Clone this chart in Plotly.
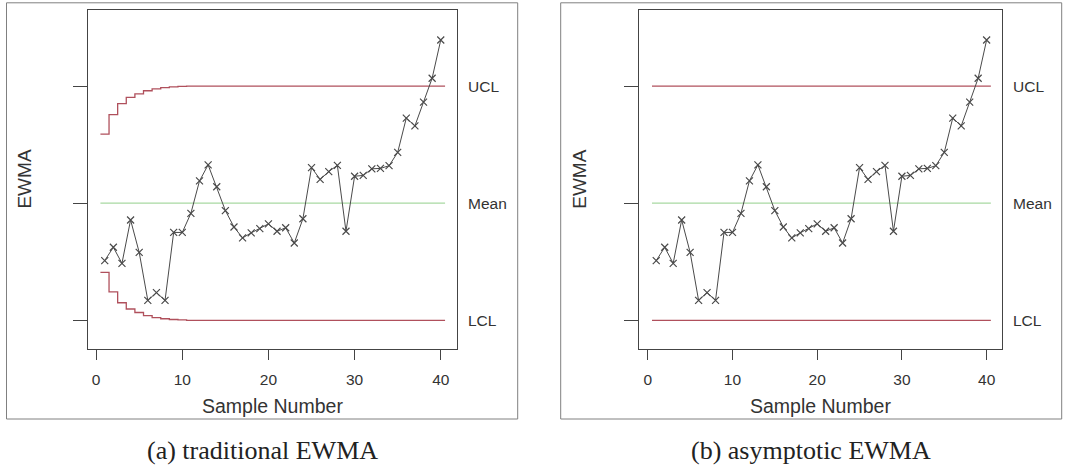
import plotly.graph_objects as go

# ---------------- data ----------------
sample = list(range(1, 41))
ewma = [-1.47, -1.13, -1.54, -0.43, -1.26, -2.49, -2.29, -2.49, -0.75, -0.75,
        -0.26, 0.57, 0.98, 0.42, -0.19, -0.61, -0.89, -0.76, -0.65, -0.53,
        -0.72, -0.63, -1.02, -0.40, 0.91, 0.61, 0.81, 0.97, -0.72, 0.69,
        0.71, 0.88, 0.89, 0.96, 1.30, 2.18, 1.98, 2.59, 3.20, 4.18]
ucl_traditional = [1.77, 2.27, 2.55, 2.71, 2.80, 2.88, 2.93, 2.96, 2.98, 2.99,
                   3.0, 3.0, 3.0, 3.0, 3.0, 3.0, 3.0, 3.0, 3.0, 3.0,
                   3.0, 3.0, 3.0, 3.0, 3.0, 3.0, 3.0, 3.0, 3.0, 3.0,
                   3.0, 3.0, 3.0, 3.0, 3.0, 3.0, 3.0, 3.0, 3.0, 3.0]
lcl_traditional = [-1.77, -2.27, -2.55, -2.71, -2.80, -2.88, -2.93, -2.96, -2.98, -2.99,
                   -3.0, -3.0, -3.0, -3.0, -3.0, -3.0, -3.0, -3.0, -3.0, -3.0,
                   -3.0, -3.0, -3.0, -3.0, -3.0, -3.0, -3.0, -3.0, -3.0, -3.0,
                   -3.0, -3.0, -3.0, -3.0, -3.0, -3.0, -3.0, -3.0, -3.0, -3.0]
center_value = 0.0
ucl_asymptotic = 3.0
lcl_asymptotic = -3.0
x_ticks = [0, 10, 20, 30, 40]
limit_labels = ["UCL", "Mean", "LCL"]
captions = ["(a) traditional EWMA", "(b) asymptotic EWMA"]

# ---------------- layout geometry (pixels) ----------------
W, H = 1073, 467
BOXES = [(87.5, 456.7), (639.3, 1002.3)]
BOX_Y = (10.3, 348.8)
FRAMES = [(6.5, 517.7), (560.7, 1061.7)]
FRAME_Y = (2.8, 419.0)
XR = [-1.0, 41.85]
YR = [-3.73, 4.94]

RED = "#b0505c"
GREEN = "#a8d9a2"
SANS = "Liberation Sans, Arial, sans-serif"
SERIF = "Liberation Serif, Times New Roman, serif"


def px(x):
    return x / W


def py(y):
    return 1 - y / H


# step x positions: each sample spans [i-0.5, i+0.5]
step_x = [s - 0.5 for s in sample] + [sample[-1] + 0.5]


def ext(vals):
    return list(vals) + [vals[-1]]


fig = go.Figure()

panels = [
    (ext(ucl_traditional), ext(lcl_traditional)),
    (ext([ucl_asymptotic] * len(sample)), ext([lcl_asymptotic] * len(sample))),
]

for k, (ucl_vals, lcl_vals) in enumerate(panels):
    xa = "x" if k == 0 else "x2"
    ya = "y" if k == 0 else "y2"
    cl_vals = ext([center_value] * len(sample))
    for vals, col in [(ucl_vals, RED), (lcl_vals, RED), (cl_vals, GREEN)]:
        fig.add_trace(go.Scatter(x=step_x, y=vals, mode="lines",
                                 line=dict(color=col, width=1.3, shape="hv"),
                                 xaxis=xa, yaxis=ya, showlegend=False,
                                 hoverinfo="skip"))
    fig.add_trace(go.Scatter(x=sample, y=ewma, mode="lines+markers",
                             line=dict(color="#4a4a4a", width=1),
                             marker=dict(symbol="x-thin-open", size=7,
                                         line=dict(color="#333333", width=1.2)),
                             xaxis=xa, yaxis=ya, showlegend=False))

axis_common = dict(showline=True, mirror=True, linecolor="#444444", linewidth=1,
                   showgrid=False, zeroline=False, ticks="outside",
                   tickcolor="#444444")

layout = dict(
    width=W, height=H, margin=dict(l=0, r=0, t=0, b=0),
    paper_bgcolor="white", plot_bgcolor="white",
    font=dict(family=SANS, color="#333333"),
    shapes=[], annotations=[],
)

for k, (bx0, bx1) in enumerate(BOXES):
    sfx = "" if k == 0 else "2"
    layout["xaxis" + sfx] = dict(
        axis_common, domain=[px(bx0), px(bx1)], range=XR,
        anchor="y" + sfx, tickvals=x_ticks, ticklen=10,
        ticklabelstandoff=7,
        tickfont=dict(size=15.5, family=SANS, color="#333333"))
    layout["yaxis" + sfx] = dict(
        axis_common, domain=[py(BOX_Y[1]), py(BOX_Y[0])], range=YR,
        anchor="x" + sfx, tickvals=[lcl_asymptotic, center_value, ucl_asymptotic],
        showticklabels=False, ticklen=14)
    fx0, fx1 = FRAMES[k]
    layout["shapes"].append(dict(type="rect", xref="paper", yref="paper",
                                 x0=px(fx0), x1=px(fx1),
                                 y0=py(FRAME_Y[1]), y1=py(FRAME_Y[0]),
                                 line=dict(color="#808080", width=1)))
    # right-side limit labels
    for lab, val in zip(limit_labels, [ucl_asymptotic, center_value, lcl_asymptotic]):
        layout["annotations"].append(dict(
            text=lab, x=px(bx1 + 9), xref="paper", y=val, yref="y" + sfx,
            xanchor="left", yanchor="middle", showarrow=False,
            font=dict(size=15.5, family=SANS, color="#333333")))
    # y-axis title
    layout["annotations"].append(dict(
        text="EWMA", x=px(fx0 + 18.5), xref="paper",
        y=py((BOX_Y[0] + BOX_Y[1]) / 2), yref="paper",
        textangle=-90, xanchor="center", yanchor="middle", showarrow=False,
        font=dict(size=19, family=SANS, color="#333333")))
    # x-axis title
    layout["annotations"].append(dict(
        text="Sample Number", x=px((bx0 + bx1) / 2), xref="paper",
        y=py(405.5), yref="paper", xanchor="center", yanchor="middle",
        showarrow=False, font=dict(size=19.5, family=SANS, color="#333333")))
    # caption
    layout["annotations"].append(dict(
        text=captions[k], x=px((fx0 + fx1) / 2), xref="paper",
        y=py(450.5), yref="paper", xanchor="center", yanchor="middle",
        showarrow=False, font=dict(size=26, family=SERIF, color="#222222")))

fig.update_layout(**layout)
fig.write_html("out.html")
